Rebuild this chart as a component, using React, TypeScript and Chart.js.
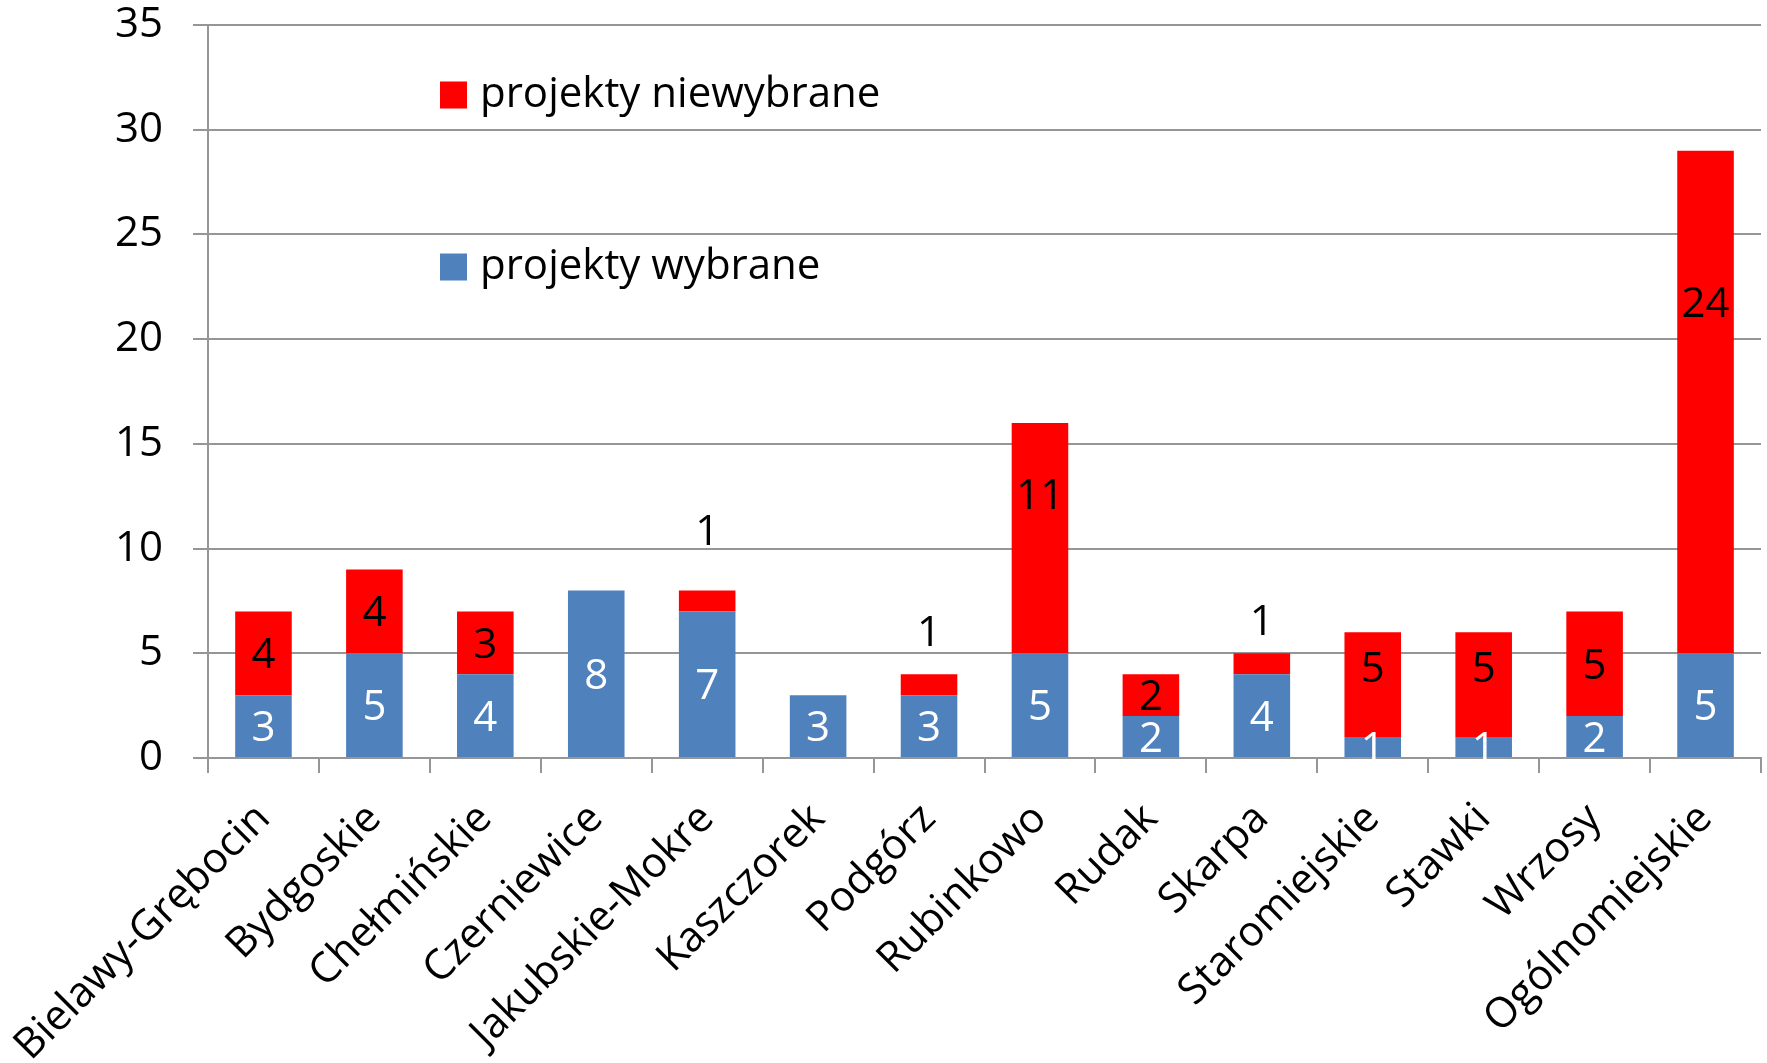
import React, { useEffect, useRef } from "react";
import { Chart, registerables } from "chart.js";

Chart.register(...registerables);

const categories = [
  "Bielawy-Grębocin",
  "Bydgoskie",
  "Chełmińskie",
  "Czerniewice",
  "Jakubskie-Mokre",
  "Kaszczorek",
  "Podgórz",
  "Rubinkowo",
  "Rudak",
  "Skarpa",
  "Staromiejskie",
  "Stawki",
  "Wrzosy",
  "Ogólnomiejskie",
];

const wybrane = [3, 5, 4, 8, 7, 3, 3, 5, 2, 4, 1, 1, 2, 5];
const niewybrane = [4, 4, 3, 0, 1, 0, 1, 11, 2, 1, 5, 5, 5, 24];

const seriesNames = ["projekty wybrane", "projekty niewybrane"];
const yTicks = [0, 5, 10, 15, 20, 25, 30, 35];

const FONT = "'Open Sans', 'Noto Sans', sans-serif";
const BLUE = "#4F81BD";
const RED = "#FF0000";
const GRID = "#969696";

// manual vertical shifts (px) of the red data labels, as placed in the original
const redLabelShift: Record<number, number> = {
  4: -71,
  6: -54,
  7: -44,
  9: -44,
  10: -18,
  11: -18,
  13: -100,
};

const labelPlugin = {
  id: "segLabels",
  afterDatasetsDraw(chart: any) {
    const ctx = chart.ctx;
    ctx.save();
    ctx.font = `42px ${FONT}`;
    ctx.textAlign = "center";
    ctx.textBaseline = "alphabetic";
    chart.data.datasets.forEach((ds: any, di: number) => {
      const meta = chart.getDatasetMeta(di);
      meta.data.forEach((bar: any, i: number) => {
        const v = ds.data[i];
        if (!v) return;
        let y = (bar.y + bar.base) / 2;
        if (di === 1 && redLabelShift[i] !== undefined) y += redLabelShift[i];
        ctx.fillStyle = di === 0 ? "#FFFFFF" : "#000000";
        ctx.fillText(String(v), bar.x, y + 15);
      });
    });
    ctx.restore();
  },
};

const legendPlugin = {
  id: "customLegend",
  afterDraw(chart: any) {
    const ctx = chart.ctx;
    const left = chart.chartArea.left;
    const items = [
      { name: seriesNames[1], color: RED, cy: 95 },
      { name: seriesNames[0], color: BLUE, cy: 267 },
    ];
    ctx.save();
    ctx.font = `42px ${FONT}`;
    ctx.textBaseline = "alphabetic";
    ctx.textAlign = "left";
    items.forEach((it) => {
      const x = left + 232;
      const cy = it.cy;
      ctx.fillStyle = it.color;
      ctx.fillRect(x, cy - 13.5, 27, 27);
      ctx.fillStyle = "#000";
      ctx.fillText(it.name, x + 40, cy + 12);
    });
    ctx.restore();
  },
};

export default function App() {
  const ref = useRef<HTMLCanvasElement | null>(null);
  useEffect(() => {
    if (!ref.current) return;
    const chart = new Chart(ref.current, {
      type: "bar",
      data: {
        labels: categories,
        datasets: [
          {
            label: seriesNames[0],
            data: wybrane,
            backgroundColor: BLUE,
            barPercentage: 0.51,
            categoryPercentage: 1,
            stack: "s",
          },
          {
            label: seriesNames[1],
            data: niewybrane,
            backgroundColor: RED,
            barPercentage: 0.51,
            categoryPercentage: 1,
            stack: "s",
          },
        ],
      },
      options: {
        responsive: false,
        animation: false,
        layout: { padding: { top: 25, right: 6, left: 0, bottom: 0 } },
        plugins: {
          legend: { display: false },
          tooltip: { enabled: false },
        },
        scales: {
          x: {
            stacked: true,
            grid: {
              display: true,
              drawOnChartArea: false,
              drawTicks: true,
              tickLength: 15,
              color: GRID,
              lineWidth: 2,
              offset: true,
            },
            border: { display: true, color: GRID, width: 2 },
            ticks: {
              autoSkip: false,
              minRotation: 45,
              maxRotation: 45,
              color: "#000",
              font: { family: FONT, size: 42 },
              padding: 21,
            },
            afterFit: (scale: any) => {
              scale.height = 1063 - 758;
              scale.paddingLeft = 0;
              scale.paddingRight = 0;
            },
          },
          y: {
            stacked: true,
            min: 0,
            max: 35,
            afterBuildTicks: (scale: any) => {
              scale.ticks = yTicks.map((v) => ({ value: v }));
            },
            grid: {
              color: GRID,
              lineWidth: 2,
              drawTicks: true,
              tickLength: 15,
            },
            border: { display: true, color: GRID, width: 2 },
            ticks: {
              color: "#000",
              font: { family: FONT, size: 42 },
              padding: 30,
            },
            afterFit: (scale: any) => {
              scale.width = 208;
              scale.paddingTop = 0;
              scale.paddingBottom = 0;
            },
          },
        },
      },
      plugins: [labelPlugin, legendPlugin],
    });
    return () => chart.destroy();
  }, []);
  return (
    <div style={{ position: "absolute", left: 0, top: 0, width: 1767, height: 1063, background: "#fff" }}>
      <canvas ref={ref} width={1767} height={1063} />
    </div>
  );
}
